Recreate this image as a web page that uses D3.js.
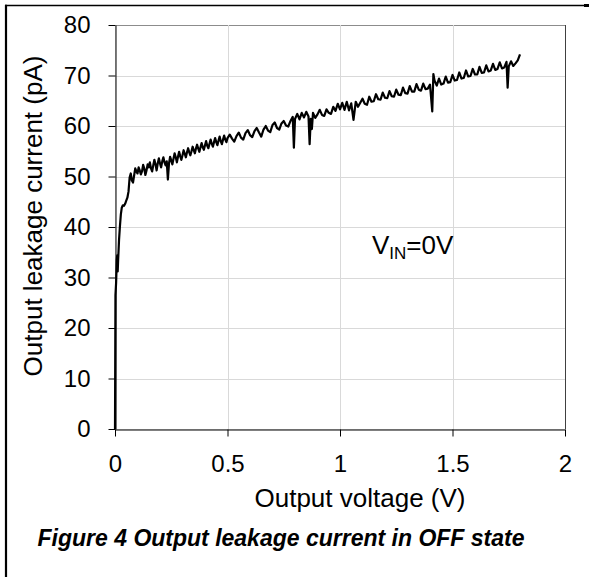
<!DOCTYPE html>
<html>
<head>
<meta charset="utf-8">
<script src="https://cdn.jsdelivr.net/npm/d3@7"></script>
<style>
  body { margin: 0; background: #fff; }
  svg { display: block; font-family: "Liberation Sans", Arial, sans-serif; }
</style>
</head>
<body>
<div id="chart"></div>
<script>
// Output voltage (V)
const voltage = [
  0, 0.002, 0.005, 0.008, 0.010, 0.012, 0.014, 0.018, 0.022, 0.026,
  0.030, 0.035, 0.040, 0.045, 0.050, 0.055, 0.060, 0.065, 0.070, 0.075,
  0.080, 0.085, 0.090, 0.095, 0.100, 0.105, 0.110, 0.115, 0.120, 0.125,
  0.130, 0.135, 0.140, 0.145, 0.150, 0.155, 0.160, 0.165, 0.170, 0.175,
  0.180, 0.185, 0.190, 0.195, 0.200, 0.205, 0.210, 0.215, 0.220, 0.225,
  0.230, 0.235, 0.240, 0.245, 0.250, 0.255, 0.260, 0.265, 0.270, 0.275,
  0.280, 0.285, 0.290, 0.295, 0.300, 0.305, 0.310, 0.315, 0.320, 0.325,
  0.330, 0.335, 0.340, 0.345, 0.350, 0.355, 0.360, 0.365, 0.370, 0.375,
  0.380, 0.385, 0.390, 0.395, 0.400, 0.405, 0.410, 0.415, 0.420, 0.425,
  0.430, 0.435, 0.440, 0.445, 0.450, 0.455, 0.460, 0.465, 0.470, 0.475,
  0.480, 0.485, 0.490, 0.495, 0.500, 0.51, 0.52, 0.53, 0.54, 0.55,
  0.56, 0.57, 0.58, 0.59, 0.60, 0.61, 0.62, 0.63, 0.64, 0.65,
  0.66, 0.67, 0.68, 0.69, 0.70, 0.71, 0.72, 0.73, 0.74, 0.75,
  0.76, 0.77, 0.78, 0.79, 0.795, 0.80, 0.81, 0.82, 0.83, 0.84,
  0.85, 0.86, 0.865, 0.87, 0.875, 0.88, 0.89, 0.90, 0.91, 0.92,
  0.93, 0.94, 0.95, 0.96, 0.97, 0.98, 0.99, 1.00, 1.01, 1.02,
  1.03, 1.04, 1.05, 1.06, 1.07, 1.08, 1.09, 1.10, 1.11, 1.12,
  1.13, 1.14, 1.15, 1.16, 1.17, 1.18, 1.19, 1.20, 1.21, 1.22,
  1.23, 1.24, 1.25, 1.26, 1.27, 1.28, 1.29, 1.30, 1.31, 1.32,
  1.33, 1.34, 1.35, 1.36, 1.37, 1.38, 1.39, 1.40, 1.41, 1.415,
  1.42, 1.43, 1.44, 1.45, 1.46, 1.47, 1.48, 1.49, 1.50, 1.51,
  1.52, 1.53, 1.54, 1.55, 1.56, 1.57, 1.58, 1.59, 1.60, 1.61,
  1.62, 1.63, 1.64, 1.65, 1.66, 1.67, 1.68, 1.69, 1.70, 1.71,
  1.72, 1.73, 1.74, 1.745, 1.75, 1.76, 1.77, 1.78, 1.79, 1.80
];

// Output leakage current (pA)
const current = [
  0, 26.5, 29.0, 33.5, 34.4, 31.2, 33.5, 37.5, 40.2, 42.5,
  43.8, 44.3, 44.2, 44.6, 45.2, 45.8, 47.0, 49.8, 50.6, 49.2,
  48.8, 50.2, 51.6, 51.0, 50.6, 51.8, 51.2, 50.4, 51.0, 52.3,
  51.6, 50.3, 51.2, 52.4, 51.8, 52.8, 51.6, 51.0, 52.2, 53.3,
  52.4, 51.2, 52.6, 53.6, 52.6, 51.8, 53.0, 53.8, 52.8, 52.2,
  53.0, 49.4, 52.6, 53.9, 53.2, 52.4, 53.5, 54.6, 53.8, 52.8,
  53.9, 54.9, 54.0, 53.3, 54.2, 55.2, 54.5, 53.8, 54.8, 55.6,
  54.8, 54.2, 55.0, 55.9, 55.2, 54.6, 55.6, 56.3, 55.5, 54.9,
  55.8, 56.6, 55.8, 55.3, 56.2, 57.0, 56.1, 55.6, 56.5, 57.3,
  56.5, 55.9, 56.8, 57.6, 56.8, 56.2, 57.1, 57.9, 57.0, 56.4,
  57.3, 58.1, 57.3, 56.8, 57.6, 58.3, 57.5, 56.9, 58.0, 58.7,
  57.7, 57.3, 58.6, 59.2, 58.2, 57.8, 59.0, 59.6, 58.7, 57.9,
  59.3, 60.0, 59.1, 58.8, 60.2, 60.7, 59.6, 59.3, 60.5, 61.0,
  60.1, 59.9, 61.0, 61.8, 55.7, 61.4, 62.4, 61.3, 62.6, 61.7,
  62.8, 61.9, 56.4, 61.4, 59.4, 62.6, 61.6, 62.3, 63.2, 62.2,
  62.0, 63.3, 62.6, 62.4, 63.8, 63.0, 64.4, 63.3, 64.6, 63.2,
  64.8, 63.1, 64.5, 61.2, 64.8, 63.8, 64.6, 65.4, 64.4, 64.2,
  65.8, 64.8, 64.9, 66.3, 65.3, 65.2, 66.6, 65.6, 65.5, 66.9,
  65.9, 65.8, 67.2, 66.2, 66.1, 67.6, 66.5, 66.4, 67.9, 66.8,
  66.8, 68.3, 67.2, 67.0, 68.4, 67.3, 67.4, 68.2, 62.9, 70.3,
  69.0, 68.0, 69.4, 68.2, 68.4, 69.8, 68.6, 68.7, 70.1, 69.0,
  69.1, 70.6, 69.4, 69.5, 71.0, 69.8, 69.9, 71.3, 70.2, 70.2,
  71.7, 70.5, 70.6, 72.0, 70.8, 71.0, 72.3, 71.1, 71.3, 72.6,
  71.4, 71.6, 72.7, 67.6, 71.8, 72.8, 71.9, 72.4, 73.0, 74.2
];

const xTicks = [0, 0.5, 1, 1.5, 2];
const yTicks = [0, 10, 20, 30, 40, 50, 60, 70, 80];

const width = 589, height = 577;

const svg = d3.select("#chart")
  .append("svg")
  .attr("width", width)
  .attr("height", height);

// figure frame (top and left edges only)
svg.append("line")
  .attr("x1", 5).attr("y1", 5.5).attr("x2", 589).attr("y2", 5.5)
  .attr("stroke", "#000").attr("stroke-width", 1.5);
svg.append("line")
  .attr("x1", 584).attr("y1", 5.5).attr("x2", 589).attr("y2", 5.5)
  .attr("stroke", "#000").attr("stroke-width", 3);
svg.append("line")
  .attr("x1", 6).attr("y1", 4.8).attr("x2", 6).attr("y2", 577)
  .attr("stroke", "#000").attr("stroke-width", 2.2);

// scales
const x = d3.scaleLinear().domain([0, 2]).range([115, 565]);
const y = d3.scaleLinear().domain([0, 80]).range([429, 25]);

// gridlines
svg.append("g")
  .selectAll("line")
  .data(yTicks)
  .join("line")
  .attr("x1", x(0)).attr("x2", x(2))
  .attr("y1", d => Math.round(y(d)) + 0.5)
  .attr("y2", d => Math.round(y(d)) + 0.5)
  .attr("stroke", d => d === 80 ? "#8c8c8c" : "#d9d9d9")
  .attr("stroke-width", 1);

svg.append("g")
  .selectAll("line")
  .data(xTicks)
  .join("line")
  .attr("x1", d => Math.round(x(d)) + 0.5)
  .attr("x2", d => Math.round(x(d)) + 0.5)
  .attr("y1", y(80)).attr("y2", y(0))
  .attr("stroke", d => d === 2 ? "#404040" : "#d9d9d9")
  .attr("stroke-width", 1);

// axes
const yAxis = svg.append("g")
  .attr("transform", `translate(${Math.round(x(0)) + 0.5},0)`)
  .call(d3.axisLeft(y).tickValues(yTicks).tickSize(7).tickSizeOuter(0).tickPadding(18)
    .tickFormat(d3.format("d")));

const xAxis = svg.append("g")
  .attr("transform", `translate(0,${Math.round(y(0)) + 0.5})`)
  .call(d3.axisBottom(x).tickValues(xTicks).tickSize(7).tickSizeOuter(0).tickPadding(18)
    .tickFormat(d => String(d)));

[yAxis, xAxis].forEach(a => {
  a.select(".domain").attr("stroke", "#000").attr("stroke-width", 1);
  a.selectAll(".tick line").attr("stroke", "#000");
  a.selectAll(".tick text")
    .attr("fill", "#000")
    .style("font-family", "'Liberation Sans', Arial, sans-serif")
    .style("font-size", "24px");
});

// the measured curve
svg.append("path")
  .datum(d3.zip(voltage, current))
  .attr("fill", "none")
  .attr("stroke", "#000")
  .attr("stroke-width", 2.2)
  .attr("stroke-linejoin", "round")
  .attr("d", d3.line()
    .x(d => x(d[0]))
    .y(d => y(d[1])));

// axis titles
svg.append("text")
  .attr("transform", "translate(42,216) rotate(-90)")
  .attr("text-anchor", "middle")
  .style("font-size", "26px")
  .text("Output leakage current (pA)");

svg.append("text")
  .attr("x", 360).attr("y", 507)
  .attr("text-anchor", "middle")
  .style("font-size", "26px")
  .text("Output voltage (V)");

// annotation
const note = svg.append("text")
  .attr("x", 372).attr("y", 254)
  .style("font-size", "26px");
note.append("tspan").text("V");
note.append("tspan").attr("dy", 5).style("font-size", "17px").text("IN");
note.append("tspan").attr("dy", -5).text("=0V");

// caption
svg.append("text")
  .attr("x", 281).attr("y", 546)
  .attr("text-anchor", "middle")
  .style("font-size", "23px")
  .style("font-weight", "bold")
  .style("font-style", "italic")
  .text("Figure 4 Output leakage current in OFF state");
</script>
</body>
</html>
